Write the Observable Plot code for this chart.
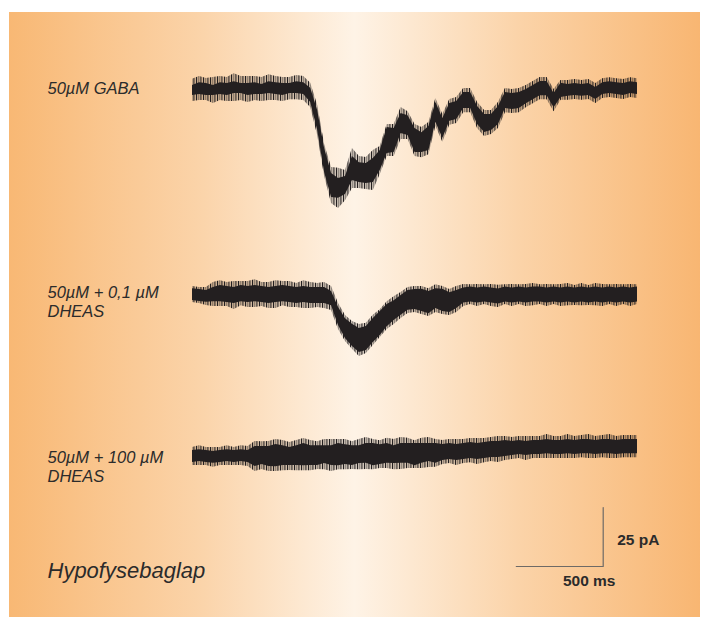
<!DOCTYPE html>
<html><head><meta charset="utf-8">
<script src="https://cdn.jsdelivr.net/npm/d3@7"></script>
<script src="https://cdn.jsdelivr.net/npm/@observablehq/plot@0.6"></script>
<style>
html,body{margin:0;padding:0;background:#fff;}
#wrap{position:relative;width:704px;height:617px;overflow:hidden;}
#bg{position:absolute;left:9px;top:12px;width:691px;height:605px;
 background:linear-gradient(to right,#f8b874 0%,#fbd4aa 28%,#fef3e6 50%,#fbd3a8 74%,#f8b672 100%);}
#chart{position:absolute;left:0;top:0;}
</style></head><body>
<div id="wrap"><div id="bg"></div><div id="chart"></div></div>
<script>
// ---- data (time in ms, current in pA relative to each trace's baseline) ----
const time = [0,40,80,120,160,200,240,280,320,360,400,440,480,520,560,600,640,680,720,760,800,840,880,920,960,1000,1040,1080,1120,1160,1200,1240,1280,1320,1360,1400,1440,1480,1520,1560,1600,1640,1680,1720,1760,1800,1840,1880,1920,1960,2000,2040,2080,2120,2160,2200,2240,2280,2320,2360,2400,2440,2480,2520,2560];

const traceNames = ["50µM GABA", "50µM + 0,1 µM\nDHEAS", "50µM + 100 µM\nDHEAS"];

// mean current
const gabaMean = [-0.4,0.4,0,-0.4,0.4,0,0.8,0.4,0,0.4,0,0.8,0.4,0,0.4,0.8,0.4,
 -2.5,-13.1,-30.1,-40.7,-41.9,-40.7,-33.5,-35.2,-35.6,-34.3,-30.1,
 -21.6,-21.6,-14.4,-15.3,-21.6,-22.5,-20.8,-9.7,-16.5,-9.7,-8.9,
 -4.7,-4.7,-11.0,-14.4,-14.0,-11.0,-4.7,-5.1,-4.7,-3.0,-1.3,
 0.4,0.4,-4.7,-0.4,-0.4,0,-0.4,0,-1.7,0.4,0.8,0.4,0,0.8,0.4];
const lowMean = [0.4,0,-0.4,0.4,0.8,0.4,0,0.8,0.4,0.8,0.4,0,0.4,0.8,0.4,0,0.4,0,0,0,
 -1.3,-8.9,-14.0,-16.9,-19.1,-18.2,-14.8,-11.9,-8.5,-6.4,-4.2,-2.1,-1.7,-2.1,-3.0,-1.3,-2.1,-3.0,-1.7,
 0,0.4,0,0.4,0,-0.4,0.4,0,0.4,0,0.4,0.4,0,0.4,0,0.4,0,0.4,0,0.4,0,0.4,0,0.4,0,0.4];
const highMean = [0,0.4,0,-0.4,0,0.4,0,0.4,0,
 0,0.4,0,0.4,0.4,0,0.4,0.8,0.4,0.4,0.8,0.4,0.8,0.8,0.4,0.8,1.3,0.8,0.8,1.3,0.8,1.3,1.3,0.8,1.3,1.7,1.3,
 1.7,2.1,1.7,2.1,2.5,2.1,2.5,3.0,3.0,3.4,
 3.4,3.8,3.4,3.8,3.8,4.2,3.8,3.8,4.2,3.8,4.2,4.2,3.8,4.2,4.2,3.8,4.2,4.2,4.2];

// half-width of the dense noise core
const gabaCore = [2.1,2.5,2.5,2.1,2.5,2.5,2.5,2.1,2.5,2.5,2.1,2.5,2.5,2.5,2.1,2.5,2.5,
 3.0,4.2,5.1,5.1,4.2,3.8,5.1,4.2,4.2,5.1,4.2,5.5,5.1,4.2,4.2,5.1,4.2,5.1,4.2,4.2,3.8,3.8,
 3.4,3.4,3.8,3.8,3.4,3.8,3.4,3.4,3.4,3.0,3.0,3.0,3.0,3.0,3.0,
 2.5,2.5,2.5,2.5,2.5,2.5,2.5,2.5,2.5,2.5,2.5];
const lowCore = [2.5,2.5,2.5,3.0,3.4,3.4,3.4,3.4,3.4,3.4,3.4,3.4,3.4,3.4,3.4,3.4,3.4,3.4,3.4,3.4,
 3.0,3.8,4.2,4.7,5.1,5.1,5.1,5.1,4.7,4.2,4.2,4.2,4.2,4.7,4.7,4.2,4.7,4.2,3.8,
 3.2,3.2,3.2,3.2,3.2,3.2,3.2,3.2,3.2,3.2,3.2,3.2,3.2,3.2,3.2,3.2,3.2,3.2,3.2,3.2,3.2,3.2,3.2,3.2,3.2,3.2];
const highCore = [2.5,2.5,2.5,2.5,2.5,2.5,2.5,2.5,2.5,
 4.2,3.8,4.2,4.7,4.2,3.8,4.2,4.7,4.2,4.2,3.8,4.2,4.7,4.2,4.2,3.8,4.2,4.7,4.2,4.2,3.8,4.2,4.2,4.7,4.2,3.8,4.2,
 3.4,3.4,3.4,3.4,3.4,3.4,3.4,3.4,3.4,3.4,
 3.0,3.0,3.0,3.0,3.0,3.0,3.0,3.0,3.0,3.0,3.0,3.0,3.0,3.0,3.0,3.0,3.0,3.0,3.0];

// half-width reached by the sparse noise spikes
const gabaSpike = [4.7,5.1,4.7,5.5,5.1,5.1,5.9,5.1,5.5,5.1,5.1,5.5,5.1,5.1,4.7,5.1,5.1,
 5.1,6.4,6.8,7.6,8.5,6.4,8.5,6.8,6.8,8.5,
 5.9,6.8,6.8,6.8,5.9,6.8,6.4,6.8,5.9,5.9,5.5,
 5.5,5.1,5.1,5.5,5.5,5.1,5.5,5.1,5.1,5.1,4.7,
 4.7,4.7,4.7,4.7,4.2,4.2,4.2,4.2,4.2,4.2,4.2,4.2,4.2,4.2,4.2,4.2];
const lowSpike = [3.4,3.4,3.8,5.1,5.5,5.1,5.9,5.1,5.5,5.9,5.1,5.5,5.9,5.1,5.5,5.1,5.9,5.5,5.1,5.5,
 5.1,5.5,5.5,5.9,6.8,6.4,6.4,5.9,5.9,5.9,5.5,5.5,5.5,5.9,5.9,5.9,5.9,5.5,5.5,
 4.7,4.2,4.7,4.2,4.7,4.7,4.2,4.7,4.2,4.7,4.7,4.2,4.7,4.2,4.7,4.7,4.2,4.7,4.2,4.7,4.7,4.2,4.7,4.2,4.7,4.2];
const highSpike = [3.8,4.2,3.8,4.2,3.8,4.2,3.8,4.2,4.2,
 6.4,5.9,6.4,6.8,6.4,5.9,6.4,6.8,6.4,5.9,6.4,6.8,6.4,6.4,5.9,6.4,6.8,6.4,5.9,6.4,6.4,6.8,6.4,5.9,6.4,6.4,5.9,
 5.1,5.1,5.5,5.1,5.1,5.5,5.1,5.1,5.5,5.1,
 4.7,4.7,5.1,4.7,4.7,5.1,4.7,4.7,5.1,4.7,4.7,5.1,4.7,4.7,5.1,4.7,4.7,4.7,4.7];

const scaleBarTime = 500;    // ms
const scaleBarCurrent = 25;  // pA
const caption = "Hypofysebaglap";

// ---- layout ----
const W = 704, H = 617;
const pxPerMs = 445 / 2560, pxPerPA = 59 / 25, traceLeft = 192;
const baselinesPx = [89, 295, 456];
const labelLeftPx = 47;
const barCornerPx = [602.7, 566];

const pxToT = px => (px - traceLeft) / pxPerMs;
const pxToV = py => -py / pxPerPA;

const series = [
  {mean: gabaMean, core: gabaCore, spike: gabaSpike},
  {mean: lowMean, core: lowCore, spike: lowSpike},
  {mean: highMean, core: highCore, spike: highSpike}
];
const rows = [];
series.forEach((s, k) => {
  const b = pxToV(baselinesPx[k]);
  time.forEach((t, i) => {
    const m = b + s.mean[i];
    rows.push({trace: k, t, coreLo: m - s.core[i], coreHi: m + s.core[i], spLo: m - s.spike[i], spHi: m + s.spike[i]});
  });
});

const cornerT = pxToT(barCornerPx[0]), cornerV = pxToV(barCornerPx[1]);
const bar = [
  {t: cornerT - scaleBarTime, v: cornerV},
  {t: cornerT, v: cornerV},
  {t: cornerT, v: cornerV + scaleBarCurrent}
];

const labels = traceNames.map((name, k) => ({name, t: pxToT(labelLeftPx), v: pxToV(baselinesPx[k])}));
const labelDy = [4, 21, 25];

const ink = "#231f20";
const labelFont = "Liberation Sans";
const chart = Plot.plot({
  width: W, height: H, margin: 0,
  x: {domain: [pxToT(0), pxToT(W)], axis: null},
  y: {domain: [pxToV(H), 0], axis: null},
  style: {background: "transparent"},
  marks: [
    Plot.areaY(rows, {x: "t", y1: "spLo", y2: "spHi", z: "trace", fill: ink, fillOpacity: 0.2}),
    Plot.areaY(rows, {x: "t", y1: "spLo", y2: "spHi", z: "trace", fill: "url(#spikes)"}),
    Plot.areaY(rows, {x: "t", y1: "coreLo", y2: "coreHi", z: "trace", fill: ink}),
    Plot.line(bar, {x: "t", y: "v", stroke: "#6e6a66", strokeWidth: 1.2}),
    ...labels.map((d, k) => Plot.text([d], {x: "t", y: "v", text: "name", textAnchor: "start", lineAnchor: "bottom",
       lineHeight: 1.12, dy: labelDy[k], fontSize: 16.5, fontStyle: "italic", fontFamily: labelFont, fill: "#2b2b2b"})),
    Plot.text([`${scaleBarCurrent} pA`], {x: cornerT, y: cornerV, text: d => d, textAnchor: "start", lineAnchor: "bottom",
       dx: 14, dy: -22, fontSize: 15.5, fontWeight: "bold", fontFamily: labelFont, fill: "#2b2b2b"}),
    Plot.text([`${scaleBarTime} ms`], {x: cornerT, y: cornerV, text: d => d, textAnchor: "middle", lineAnchor: "bottom",
       dx: -14, dy: 19, fontSize: 15.5, fontWeight: "bold", fontFamily: labelFont, fill: "#2b2b2b"}),
    Plot.text([caption], {frameAnchor: "bottom-left", text: d => d, textAnchor: "start", lineAnchor: "bottom",
       dx: labelLeftPx, dy: -40, fontSize: 22, fontStyle: "italic", fontFamily: labelFont, fill: "#2b2b2b"})
  ]
});
const ns = "http://www.w3.org/2000/svg";
const defs = document.createElementNS(ns, "defs");
defs.innerHTML = '<pattern id="spikes" patternUnits="userSpaceOnUse" width="7" height="4">' +
  '<rect x="0" y="0" width="1.1" height="4" fill="#231f20"/>' +
  '<rect x="2.4" y="0" width="0.8" height="4" fill="#231f20" fill-opacity="0.6"/>' +
  '<rect x="4.3" y="0" width="1.2" height="4" fill="#231f20" fill-opacity="0.85"/></pattern>';
chart.insertBefore(defs, chart.firstChild);
document.getElementById("chart").appendChild(chart);
</script>
</body></html>
